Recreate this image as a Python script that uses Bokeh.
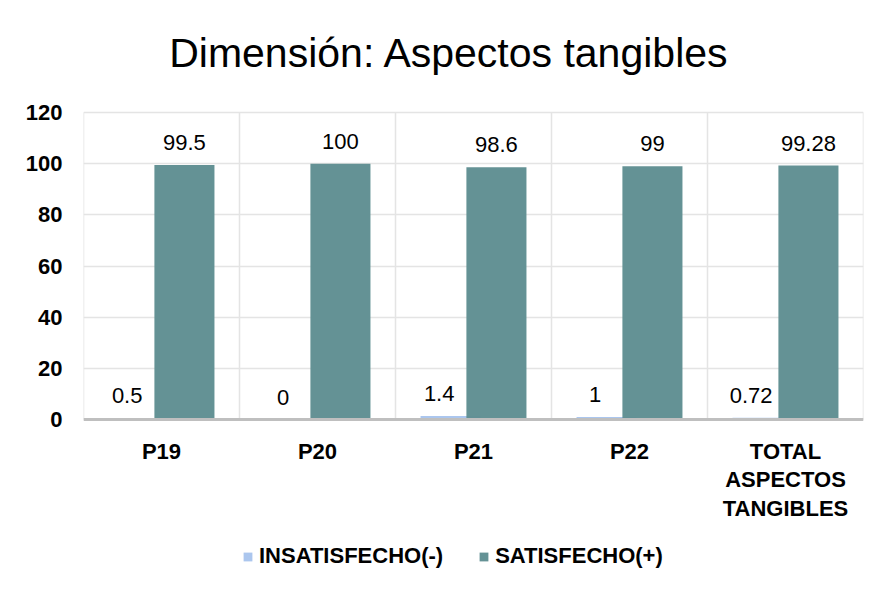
import numpy as np
from bokeh.plotting import figure
from bokeh.models import (ColumnDataSource, Range1d, FixedTicker, Legend, LegendItem,
                          LabelSet, Label, Span)
from bokeh.core.properties import value
from bokeh.embed import file_html
from bokeh.resources import INLINE

categories = ["P19", "P20", "P21", "P22", "TOTAL\nASPECTOS\nTANGIBLES"]
insatisfecho = [0.5, 0, 1.4, 1, 0.72]
satisfecho = [99.5, 100, 98.6, 99, 99.28]
y_ticks = [0, 20, 40, 60, 80, 100, 120]
title_text = "Dimensión: Aspectos tangibles"
series_names = ["INSATISFECHO(-)", "SATISFECHO(+)"]

FONT = "Liberation Sans"
C_INS = "#abc6ee"
C_SAT = "#5f8e92"
GRID = "#e4e4e4"

n = len(categories)
centers = np.arange(n) + 0.5
bounds = np.arange(n + 1)
off = 0.147
bw = 0.385

# layout: frame covers whole height; value axis 0..120 spans page px 419..112
H = 594
px_per_unit = (419 - 112) / (max(y_ticks) - min(y_ticks))
y_top = max(y_ticks) + 112 / px_per_unit
y_bot = min(y_ticks) - (H - 419) / px_per_unit

src = ColumnDataSource(dict(
    x_ins=centers - off, x_sat=centers + off, x_lab_ins=centers - 0.22,
    ins=insatisfecho, sat=satisfecho,
    ins_lab=[f"{v:g}" for v in insatisfecho], sat_lab=[f"{v:g}" for v in satisfecho],
))
cat_src = ColumnDataSource(dict(x=centers, y=[min(y_ticks)] * n, text=categories))
vg_src = ColumnDataSource(dict(x=bounds, y0=[min(y_ticks)] * (n + 1), y1=[max(y_ticks)] * (n + 1)))

p = figure(frame_width=780, frame_height=H, output_backend="svg", toolbar_location=None,
           x_range=Range1d(0, n), y_range=Range1d(y_bot, y_top),
           min_border_left=83, min_border_right=19, min_border_top=0, min_border_bottom=0,
           x_axis_location=None)
p.outline_line_color = None
p.background_fill_color = "white"
p.border_fill_color = "white"
p.xgrid.visible = False

# grids
p.ygrid.ticker = FixedTicker(ticks=y_ticks)
p.ygrid.grid_line_color = GRID
p.ygrid.grid_line_width = 1.5
p.segment(x0="x", y0="y0", x1="x", y1="y1", source=vg_src, line_color=GRID, line_width=1.5)

r_ins = p.vbar(x="x_ins", top="ins", width=bw, source=src, color=C_INS, line_color=None)
r_sat = p.vbar(x="x_sat", top="sat", width=bw, source=src, color=C_SAT, line_color=None, alpha=0.97)

# baseline (category axis line)
p.add_layout(Span(location=min(y_ticks), dimension="width", line_color="#bfbfbf", line_width=3))

lab_style = dict(text_font=value(FONT), text_font_size="22px", text_align="center",
                 text_baseline="bottom", text_color="#000000", y_offset=15)
p.add_layout(LabelSet(x="x_lab_ins", y="ins", text="ins_lab", source=src, **lab_style))
p.add_layout(LabelSet(x="x_sat", y="sat", text="sat_lab", source=src, **lab_style))

# category labels
p.text(x="x", y="y", text="text", source=cat_src, text_font=value(FONT), text_font_size="22px",
       text_font_style="bold", text_align="center", text_baseline="top", text_color="#000000",
       y_offset=19, text_line_height=1.15)

# title
p.add_layout(Label(x=(449 - 83) / 156, y=max(y_ticks) + (112 - 52) / px_per_unit, text=title_text,
                   text_font=FONT, text_font_size="41px", text_align="center",
                   text_baseline="middle", text_color="#000000"))

# value axis
p.yaxis.ticker = FixedTicker(ticks=y_ticks)
p.yaxis.major_label_text_font = FONT
p.yaxis.major_label_text_font_size = "22px"
p.yaxis.major_label_text_font_style = "bold"
p.yaxis.major_label_text_color = "#000000"
p.yaxis.major_label_standoff = 15
p.yaxis.axis_line_color = None
p.yaxis.major_tick_line_color = None
p.yaxis.minor_tick_line_color = None

legend = Legend(items=[LegendItem(label=series_names[0], renderers=[r_ins]),
                       LegendItem(label=series_names[1], renderers=[r_sat])],
                orientation="horizontal", location=(159, 25),
                label_text_font=FONT, label_text_font_size="22px", label_text_font_style="bold",
                label_text_color="#000000", glyph_width=11, glyph_height=11,
                spacing=35, border_line_color=None, background_fill_alpha=0,
                margin=0, padding=2, label_standoff=6)
p.add_layout(legend, "center")

open("out.html", "w").write(file_html(p, INLINE))
